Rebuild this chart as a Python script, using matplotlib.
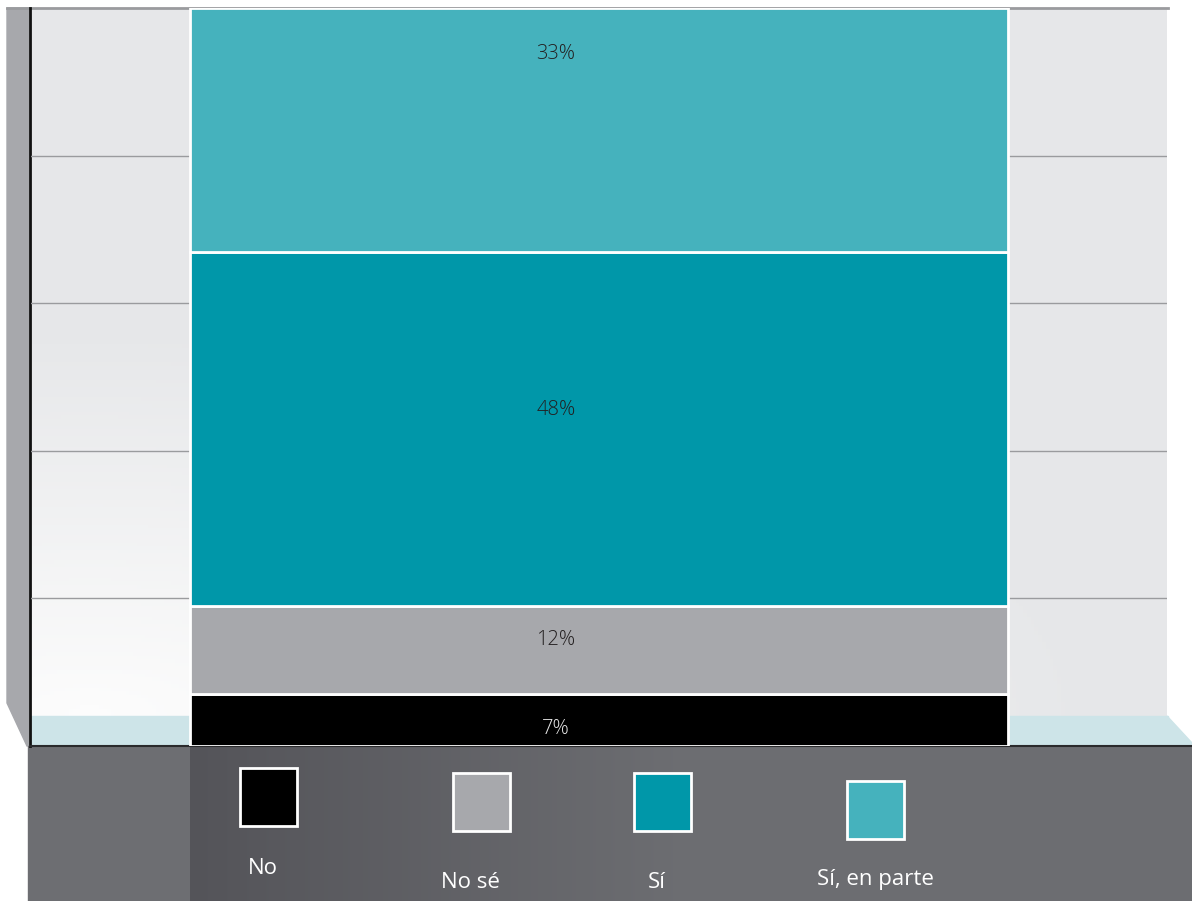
import numpy as np
import matplotlib.pyplot as plt
from matplotlib.patches import Polygon, Rectangle

# ----- DATA -----
categories = ["No", "No sé", "Sí", "Sí, en parte"]
values = [7, 12, 48, 33]
labels = ["7%", "12%", "48%", "33%"]
colors = ["#000000", "#a7a8ac", "#0097a9", "#45b2bd"]

plt.rcParams["font.family"] = ["Open Sans", "DejaVu Sans"]

W, H = 1192, 901
fig = plt.figure(figsize=(W / 100, H / 100), dpi=100)
fig.patch.set_facecolor("white")

# ----- BACKGROUND (pixel coords) -----
bg = fig.add_axes([0, 0, 1, 1])
bg.set_xlim(0, W)
bg.set_ylim(H, 0)
bg.axis("off")

# back wall with soft light spot at lower left
yy, xx = np.mgrid[0:1:200j, 0:1:300j]
d = np.sqrt(((xx - 0.05) / 0.9) ** 2 + ((yy - 1.0) / 0.55) ** 2)
t = np.clip(d, 0, 1)
c0 = np.array([0.99, 0.99, 0.99])
c1 = np.array([0.902, 0.906, 0.914])
img = c0[None, None, :] * (1 - t[..., None]) + c1[None, None, :] * t[..., None]
bg.imshow(img, extent=[31, 1167, 716, 8], aspect="auto", zorder=0)

# floor
bg.add_patch(Rectangle((31, 716), 1137, 30, color="#cde4e8", zorder=1))
bg.add_patch(Polygon([(1167, 716), (1192, 743), (1192, 746), (1167, 746)],
                     closed=True, color="#cde4e8", zorder=1))
# left wall
bg.add_patch(Polygon([(7, 8), (29, 8), (29, 746), (27, 746), (7, 703)],
                     closed=True, color="#a7a8ac", zorder=1))
# top edge
bg.plot([7, 1168], [7.5, 7.5], color="#9a9b9e", lw=2, zorder=2)

# legend panel
bg.add_patch(Rectangle((28, 746), W - 28, H - 746, color="#6d6e72", zorder=1))
gx = np.linspace(0, 1, 400)
g0 = np.array([0.33, 0.33, 0.35])
g1 = np.array([0.427, 0.431, 0.447])
s = np.clip(gx / 0.5, 0, 1)[None, :, None]
grad = g0 * (1 - s) + g1 * s
bg.imshow(grad, extent=[190, 1192, H, 746], aspect="auto", zorder=1.5)

# axis lines
bg.plot([30, 30], [8, 746], color="#111111", lw=2, zorder=3)
bg.plot([30, 1192], [746, 746], color="#2a2a2c", lw=1.5, zorder=3)

# ----- MAIN CHART -----
ax = fig.add_axes([31 / W, (H - 746) / H, 1136 / W, 738 / H])
ax.patch.set_alpha(0)
ax.set_xlim(0, 1)
ax.set_ylim(0, 100)
for sp in ax.spines.values():
    sp.set_visible(False)
ax.set_xticks([])
ax.set_yticks([])
for gy in [20, 40, 60, 80]:
    ax.axhline(gy, color="#9a9b9e", lw=1, zorder=1)

bottom = 0
label_y = [2.3, 14.4, 45.5, 93.8]
for v, c, lab, ly in zip(values, colors, labels, label_y):
    ax.bar(0.5, v, width=0.72, bottom=bottom, color=c, edgecolor="white",
           linewidth=2, zorder=2)
    ax.text(0.462, ly, lab, ha="center", va="center", fontsize=14.5,
            fontweight="light",
            color="#231f20" if c != "#000000" else "#e6e6e6", zorder=3)
    bottom += v

# ----- LEGEND -----
leg_boxes = [(240, 768), (453, 773), (634, 773), (847, 781)]
leg_text = [(263, 868), (470, 882), (657, 882), (875, 880)]
for cat, c, (bx, by), (tx, ty) in zip(categories, colors, leg_boxes, leg_text):
    bg.add_patch(Rectangle((bx, by), 57, 58, facecolor=c, edgecolor="white",
                           linewidth=2, zorder=4))
    bg.text(tx, ty, cat, ha="center", va="center", color="white",
            fontsize=16, zorder=4)

fig.savefig("out.png", dpi=100)
